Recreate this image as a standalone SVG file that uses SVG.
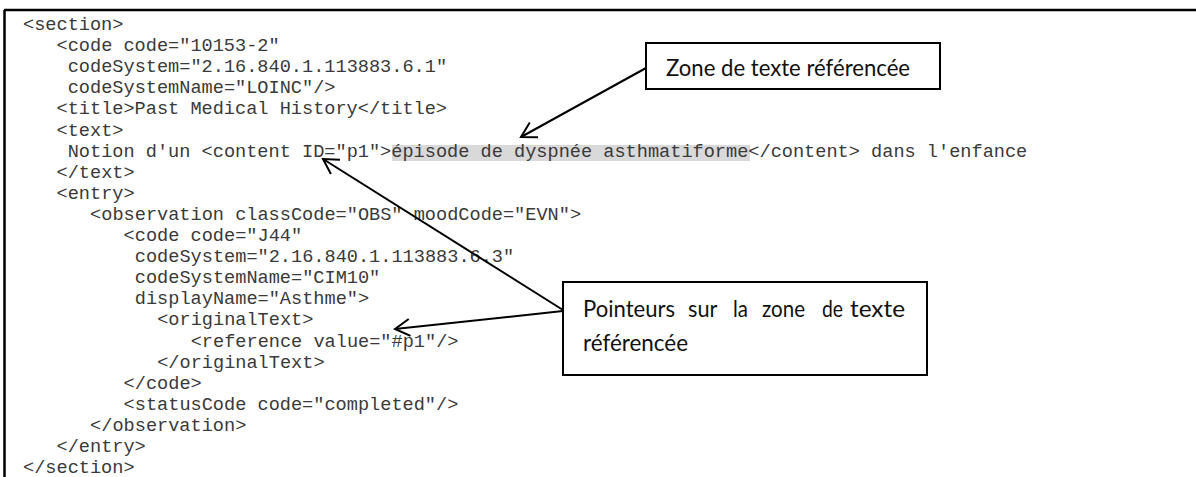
<svg xmlns="http://www.w3.org/2000/svg" width="1196" height="477" viewBox="0 0 1196 477">
  <style>
    .code { font-family: "Liberation Mono", "Courier New", monospace; font-size: 18.6px; fill: #3a3a3a; }
    .note { font-family: Lato, "Liberation Sans", sans-serif; font-size: 23px; fill: #111111; }
    .box { fill: #ffffff; stroke: #000000; stroke-width: 2; }
    .frame { stroke: #000000; stroke-width: 2.5; fill: none; }
    .link { stroke: #000000; stroke-width: 2; fill: none; marker-end: url(#openArrow); }
  </style>
  <defs>
    <marker id="openArrow" markerUnits="userSpaceOnUse" viewBox="-17 -10 19 20" refX="0" refY="0" markerWidth="19" markerHeight="20" orient="auto">
      <path d="M-14.7,-8.5 L0,0 L-14.7,8.5" fill="none" stroke="#000000" stroke-width="2"/>
    </marker>
  </defs>

  <!-- page frame: top and left rules -->
  <path class="frame" d="M4,10 H1196 M4.5,10 V477"/>

  <!-- highlighted referenced span -->
  <rect x="392" y="145" width="358" height="16" fill="#d9d9d9"/>

  <!-- CDA section listing -->
  <g id="listing">
    <text class="code" x="23" y="30">&lt;section&gt;</text>
    <text class="code" x="56.5" y="51.1">&lt;code code="10153-2"</text>
    <text class="code" x="67.7" y="72.2">codeSystem="2.16.840.1.113883.6.1"</text>
    <text class="code" x="67.7" y="93.3">codeSystemName="LOINC"/&gt;</text>
    <text class="code" x="56.5" y="114.4">&lt;title&gt;Past Medical History&lt;/title&gt;</text>
    <text class="code" x="56.5" y="135.5">&lt;text&gt;</text>
    <text class="code" x="67.7" y="156.6">Notion d'un &lt;content ID="p1"&gt;épisode de dyspnée asthmatiforme&lt;/content&gt; dans l'enfance</text>
    <text class="code" x="56.5" y="177.7">&lt;/text&gt;</text>
    <text class="code" x="56.5" y="198.8">&lt;entry&gt;</text>
    <text class="code" x="90.1" y="219.9">&lt;observation classCode="OBS" moodCode="EVN"&gt;</text>
    <text class="code" x="123.6" y="241">&lt;code code="J44"</text>
    <text class="code" x="134.8" y="262.1">codeSystem="2.16.840.1.113883.6.3"</text>
    <text class="code" x="134.8" y="283.2">codeSystemName="CIM10"</text>
    <text class="code" x="134.8" y="304.3">displayName="Asthme"&gt;</text>
    <text class="code" x="157.2" y="325.4">&lt;originalText&gt;</text>
    <text class="code" x="190.7" y="346.5">&lt;reference value="#p1"/&gt;</text>
    <text class="code" x="157.2" y="367.6">&lt;/originalText&gt;</text>
    <text class="code" x="123.6" y="388.7">&lt;/code&gt;</text>
    <text class="code" x="123.6" y="409.8">&lt;statusCode code="completed"/&gt;</text>
    <text class="code" x="90.1" y="430.9">&lt;/observation&gt;</text>
    <text class="code" x="56.5" y="452">&lt;/entry&gt;</text>
    <text class="code" x="23" y="473.1">&lt;/section&gt;</text>
  </g>

  <!-- callout connectors -->
  <g id="connectors">
    <line class="link" x1="646" y1="68" x2="521" y2="137"/>
    <line class="link" x1="563" y1="310" x2="323" y2="159"/>
    <line class="link" x1="563" y1="311" x2="395" y2="329"/>
  </g>

  <!-- callout: referenced text zone -->
  <g id="callout-zone">
    <rect class="box" x="646" y="43" width="294" height="46"/>
    <text class="note" x="666" y="76" textLength="244" lengthAdjust="spacingAndGlyphs">Zone de texte référencée</text>
  </g>

  <!-- callout: pointers to the referenced zone (justified paragraph) -->
  <g id="callout-pointers">
    <rect class="box" x="563" y="282" width="364" height="93"/>
    <text class="note" y="317">
      <tspan x="583" textLength="92" lengthAdjust="spacingAndGlyphs">Pointeurs</tspan>
      <tspan x="688" textLength="29" lengthAdjust="spacingAndGlyphs">sur</tspan>
      <tspan x="733" textLength="15" lengthAdjust="spacingAndGlyphs">la</tspan>
      <tspan x="762" textLength="43" lengthAdjust="spacingAndGlyphs">zone</tspan>
      <tspan x="822" textLength="21" lengthAdjust="spacingAndGlyphs">de</tspan>
      <tspan x="850" textLength="55" lengthAdjust="spacingAndGlyphs">texte</tspan>
    </text>
    <text class="note" x="583" y="351" textLength="105" lengthAdjust="spacingAndGlyphs">référencée</text>
  </g>
</svg>
